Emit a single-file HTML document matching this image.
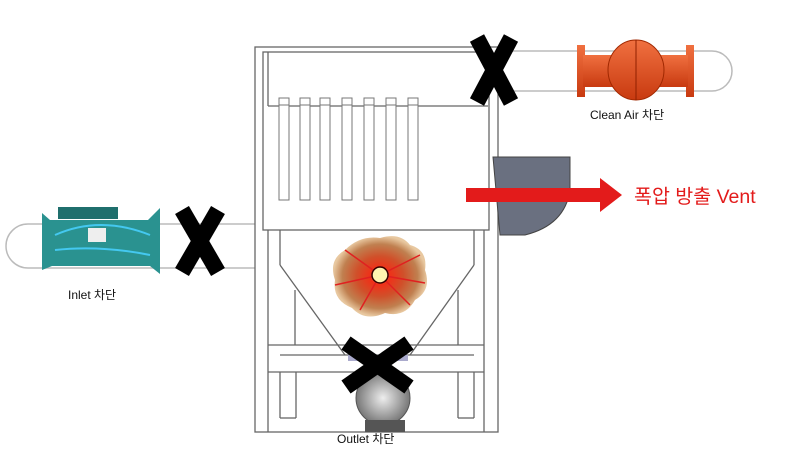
<!DOCTYPE html>
<html><head><meta charset="utf-8"><style>
body{margin:0;background:#fff}
svg{display:block}
text{font-family:"Liberation Sans","Noto Sans CJK KR",sans-serif}
</style></head><body>
<svg width="796" height="460" viewBox="0 0 796 460" xmlns="http://www.w3.org/2000/svg">
<defs>
<radialGradient id="ex" cx="50%" cy="50%" r="50%">
<stop offset="0" stop-color="#fff6c0"/><stop offset="0.2" stop-color="#f03018"/><stop offset="0.5" stop-color="#d0502a"/><stop offset="0.8" stop-color="#c08050"/><stop offset="1" stop-color="#e8c8a0"/>
</radialGradient>
<radialGradient id="ov" cx="50%" cy="50%" r="50%"><stop offset="0" stop-color="#eee"/><stop offset="1" stop-color="#777"/></radialGradient>
<linearGradient id="org" x1="0" y1="0" x2="0" y2="1"><stop offset="0" stop-color="#f07040"/><stop offset="1" stop-color="#c83a10"/></linearGradient>
</defs>
<path d="M497 51 H712 a20 20 0 0 1 0 40 H497 Z" fill="#fff" stroke="#bbb" stroke-width="1.5"/>
<path d="M258 224 H28 a22 22 0 0 0 0 44 H258 Z" fill="#fff" stroke="#bbb" stroke-width="1.5"/>
<g fill="none" stroke="#666" stroke-width="1.3">
<rect x="255" y="47" width="243" height="385" fill="#fff"/>
<rect x="263" y="52" width="226" height="178"/>
<line x1="268" y1="106" x2="488" y2="106"/>
<line x1="268" y1="52" x2="268" y2="106"/>
<line x1="268" y1="230" x2="268" y2="432"/>
<line x1="484" y1="230" x2="484" y2="432"/>
<line x1="280" y1="230" x2="280" y2="265"/>
<line x1="474" y1="230" x2="474" y2="265"/>
<line x1="280" y1="265" x2="345" y2="355"/>
<line x1="474" y1="265" x2="410" y2="355"/>
<line x1="295" y1="290" x2="295" y2="345"/><line x1="458" y1="290" x2="458" y2="345"/>
<line x1="268" y1="345" x2="484" y2="345"/>
<line x1="280" y1="355" x2="474" y2="355"/>
<line x1="268" y1="372" x2="484" y2="372"/>
<line x1="280" y1="372" x2="280" y2="418"/><line x1="296" y1="372" x2="296" y2="418"/>
<line x1="280" y1="418" x2="296" y2="418"/>
<line x1="458" y1="372" x2="458" y2="418"/><line x1="474" y1="372" x2="474" y2="418"/>
<line x1="458" y1="418" x2="474" y2="418"/>
</g>
<g fill="#fff" stroke="#777" stroke-width="1">
<rect x="279" y="98" width="10" height="7"/><rect x="279" y="105" width="10" height="95"/>
<rect x="300" y="98" width="10" height="7"/><rect x="300" y="105" width="10" height="95"/>
<rect x="320" y="98" width="10" height="7"/><rect x="320" y="105" width="10" height="95"/>
<rect x="342" y="98" width="10" height="7"/><rect x="342" y="105" width="10" height="95"/>
<rect x="364" y="98" width="10" height="7"/><rect x="364" y="105" width="10" height="95"/>
<rect x="386" y="98" width="10" height="7"/><rect x="386" y="105" width="10" height="95"/>
<rect x="408" y="98" width="10" height="7"/><rect x="408" y="105" width="10" height="95"/>
</g>
<path d="M380 238 Q400 232 410 245 Q428 250 425 270 Q432 290 415 300 Q405 318 385 313 Q365 322 352 308 Q332 300 335 280 Q328 260 345 250 Q360 235 380 238Z" fill="url(#ex)"/>
<g stroke="#e02020" stroke-width="1.5"><line x1="380" y1="275" x2="345" y2="250"/><line x1="380" y1="275" x2="420" y2="255"/><line x1="380" y1="275" x2="360" y2="310"/><line x1="380" y1="275" x2="410" y2="305"/><line x1="380" y1="275" x2="335" y2="285"/><line x1="380" y1="275" x2="425" y2="283"/></g>
<circle cx="380" cy="275" r="8" fill="#fff4b0" stroke="#300" stroke-width="1.5"/>
<rect x="348" y="355" width="60" height="6" fill="#aac"/>
<circle cx="383" cy="398" r="27" fill="url(#ov)" stroke="#555"/>
<rect x="365" y="420" width="40" height="12" fill="#555"/>
<path d="M493 157 H570 V190 Q565 225 525 235 H500 Z" fill="#6a7080" stroke="#444"/>
<rect x="577" y="45" width="8" height="52" fill="url(#org)"/>
<rect x="686" y="45" width="8" height="52" fill="url(#org)"/>
<rect x="583" y="55" width="105" height="32" fill="url(#org)"/>
<ellipse cx="636" cy="70" rx="28" ry="30" fill="url(#org)" stroke="#a02800"/>
<line x1="636" y1="40" x2="636" y2="100" stroke="#902000"/>
<path d="M42 213 L50 220 H148 L160 208 V274 L150 266 H52 L42 270 Z" fill="#2a9290"/>
<rect x="58" y="207" width="60" height="12" fill="#1f6f6d"/>
<path d="M55 235 Q100 215 150 235 M55 250 Q100 245 150 255" stroke="#44c8f0" stroke-width="2" fill="none"/>
<rect x="88" y="228" width="18" height="14" fill="#eee"/>
<g stroke="#000" stroke-width="16" stroke-linecap="butt">
<line x1="477" y1="38" x2="511" y2="102"/><line x1="511" y1="38" x2="477" y2="102"/>
<line x1="182" y1="210" x2="218" y2="272"/><line x1="218" y1="210" x2="182" y2="272"/>
<line x1="346" y1="343" x2="409" y2="387"/><line x1="409" y1="343" x2="346" y2="387"/>
</g>
<rect x="466" y="188" width="138" height="14" fill="#e31b1b"/>
<polygon points="600,178 622,195 600,212" fill="#e31b1b"/>
<text x="634" y="203" font-size="19.5" fill="#e31b1b">폭압 방출 Vent</text>
<text x="590" y="119" font-size="12" fill="#111">Clean Air 차단</text>
<text x="68" y="299" font-size="12" fill="#111">Inlet 차단</text>
<text x="337" y="443" font-size="12" fill="#111">Outlet 차단</text>
</svg>
</body></html>
